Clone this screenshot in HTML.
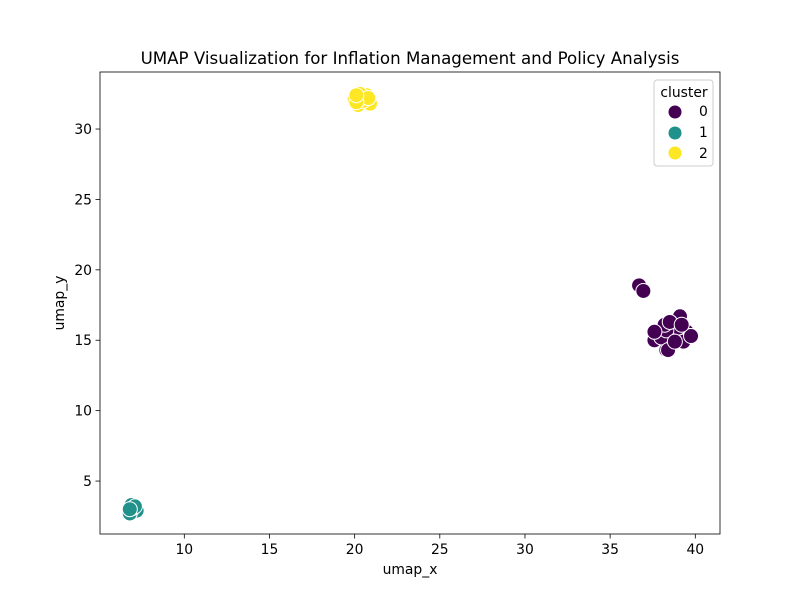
<!DOCTYPE html>
<html><head><meta charset="utf-8"><style>
body{margin:0;background:#fff;font-family:"Liberation Sans","DejaVu Sans",sans-serif;}
text{font-family:"DejaVu Sans","Liberation Sans",sans-serif;}
</style></head><body>
<svg id="chart" width="800" height="600" xmlns="http://www.w3.org/2000/svg">
<rect width="800" height="600" fill="#fff"/>
<text x="410" y="64" text-anchor="middle" font-size="16.67">UMAP Visualization for Inflation Management and Policy Analysis</text>
<g id="points"></g>
<rect x="100" y="72" width="620" height="462" fill="none" stroke="#000" stroke-width="0.8"/>
<g id="xticks"></g>
<g id="yticks"></g>
<text x="410" y="574" text-anchor="middle" font-size="13.9">umap_x</text>
<text transform="translate(64,303) rotate(-90)" text-anchor="middle" font-size="13.9">umap_y</text>
<g>
<rect x="654" y="80" width="59" height="86" rx="3" fill="#fff" fill-opacity="0.8" stroke="#ccc"/>
<text x="684" y="97" text-anchor="middle" font-size="13.9">cluster</text>
<g><circle cx="675" cy="112" r="6.5" fill="#440154"/><text x="699" y="116" font-size="13.9">0</text></g>
<g><circle cx="675" cy="133" r="6.5" fill="#21918c"/><text x="699" y="137" font-size="13.9">1</text></g>
<g><circle cx="675" cy="153" r="6.5" fill="#fde725"/><text x="699" y="158" font-size="13.9">2</text></g>
</g>
</svg>
<script>
const xTicks=[10,15,20,25,30,35,40];
const yTicks=[5,10,15,20,25,30];
const colors=["#440154","#21918c","#fde725"];
const cluster0X=[36.7,36.95,38.1,37.6,38.7,39.1,39.3,39.5,39.7,37.9,38.4,38.8,39.2,38.3,38.75,39.3,39.75,38.0,38.5,39.0,38.3,38.2,38.5,39.2,38.4,37.6,38.8];
const cluster0Y=[18.9,18.5,15.5,15.0,15.8,16.7,15.4,15.6,15.3,15.4,14.8,14.9,15.0,14.3,15.1,14.9,15.3,15.2,16.3,15.9,15.7,16.1,16.3,16.1,14.3,15.6,14.9];
const cluster1X=[6.9,7.2,6.8,7.0,7.1,6.8];
const cluster1Y=[3.3,2.9,2.7,3.1,3.2,3.0];
const cluster2X=[20.0,20.2,20.7,20.9,20.5,20.3,20.8,20.1,20.1];
const cluster2Y=[32.1,31.7,32.4,31.8,32.0,32.5,32.2,31.9,32.4];
const NS="http://www.w3.org/2000/svg";
const X0=5.05,X1=41.45,Y0=1.24,Y1=34.05;
function sx(v){return 100+(v-X0)/(X1-X0)*620;}
function sy(v){return 534-(v-Y0)/(Y1-Y0)*462;}
const pts=document.getElementById('points');
[[cluster0X,cluster0Y],[cluster1X,cluster1Y],[cluster2X,cluster2Y]].forEach((s,ci)=>{
  s[0].forEach((x,i)=>{
    const c=document.createElementNS(NS,'circle');
    c.setAttribute('cx',sx(x));c.setAttribute('cy',sy(s[1][i]));c.setAttribute('r',7.5);
    c.setAttribute('fill',colors[ci]);c.setAttribute('stroke','#fff');c.setAttribute('stroke-width',1);
    
    
    pts.appendChild(c);
  });
});
const xg=document.getElementById('xticks');
xTicks.forEach(t=>{
  const l=document.createElementNS(NS,'line');
  l.setAttribute('x1',sx(t));l.setAttribute('x2',sx(t));l.setAttribute('y1',534);l.setAttribute('y2',538.5);l.setAttribute('stroke','#000');l.setAttribute('stroke-width',0.8);
  
  
  xg.appendChild(l);
  const tx=document.createElementNS(NS,'text');
  tx.setAttribute('x',sx(t));tx.setAttribute('y',554);tx.setAttribute('text-anchor','middle');tx.setAttribute('font-size','13.9');
  tx.textContent=t;
  
  
  xg.appendChild(tx);
});
const yg=document.getElementById('yticks');
yTicks.forEach(t=>{
  const l=document.createElementNS(NS,'line');
  l.setAttribute('x1',95.5);l.setAttribute('x2',100);l.setAttribute('y1',sy(t));l.setAttribute('y2',sy(t));l.setAttribute('stroke','#000');l.setAttribute('stroke-width',0.8);
  
  
  yg.appendChild(l);
  const tx=document.createElementNS(NS,'text');
  tx.setAttribute('x',92);tx.setAttribute('y',sy(t)+5);tx.setAttribute('text-anchor','end');tx.setAttribute('font-size','13.9');
  tx.textContent=t;
  
  
  yg.appendChild(tx);
});
</script>
</body></html>
